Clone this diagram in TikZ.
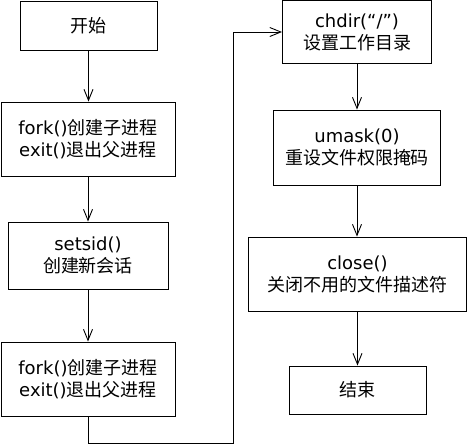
\documentclass[tikz,border=0pt]{standalone}
\usepackage{fontspec}
\setmainfont{DejaVu Sans}
\newfontfamily\cjk{Noto Sans CJK SC}
\usetikzlibrary{arrows.meta}
\begin{document}
\begin{tikzpicture}[x=1pt,y=-1pt,
  box/.style={draw,line width=1pt,inner sep=0pt,align=center,
    font=\fontsize{18}{22}\selectfont},
  flow/.style={line width=1pt,-{Straight Barb[length=11pt,width=9pt,line width=0.9pt]}},
  link/.style={line width=1pt}]
\useasboundingbox (0,0) rectangle (467,445);
\node[box,minimum width=137pt,minimum height=49pt] (b1) at (88.5,25.5) {\cjk 开始};
\node[box,minimum width=174pt,minimum height=74pt] (b2) at (88,139) {fork(){\cjk 创建子进程}\\exit(){\cjk 退出父进程}};
\node[box,minimum width=160pt,minimum height=67pt] (b3) at (88,255.5) {setsid()\\{\cjk 创建新会话}};
\node[box,minimum width=174pt,minimum height=74pt] (b4) at (88,379) {fork(){\cjk 创建子进程}\\exit(){\cjk 退出父进程}};
\node[box,minimum width=149pt,minimum height=63pt] (b5) at (357,32) {chdir(“/”)\\{\cjk 设置工作目录}};
\node[box,minimum width=167pt,minimum height=75pt] (b6) at (357,147.5) {umask(0)\\{\cjk 重设文件权限掩码}};
\node[box,minimum width=218pt,minimum height=74pt] (b7) at (357.5,274) {close()\\{\cjk 关闭不用的文件描述符}};
\node[box,minimum width=137pt,minimum height=48pt] (b8) at (357.5,390) {\cjk 结束};
\coordinate (c1) at (233,443);
\draw[flow] (b1.south) -- (b1.south |- b2.north);
\draw[flow] (b2.south) -- (b2.south |- b3.north);
\draw[flow] (b3.south) -- (b3.south |- b4.north);
\draw[flow] (b4.south) |- (c1) |- (b5.west);
\draw[flow] (b5.south) -- (b5.south |- b6.north);
\draw[flow] (b6.south) -- (b6.south |- b7.north);
\draw[flow] (b7.south) -- (b7.south |- b8.north);
\end{tikzpicture}
\end{document}
